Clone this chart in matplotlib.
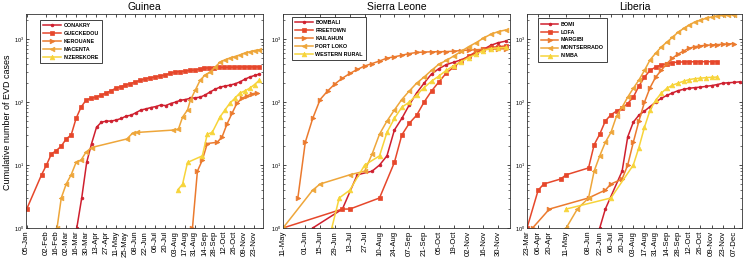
import matplotlib
matplotlib.use("Agg")
import matplotlib.pyplot as plt
import matplotlib.dates as mdates
import matplotlib.ticker as mticker
import pandas as pd

plt.rcParams['font.family'] = ['Liberation Sans', 'DejaVu Sans']

YEAR = "2014-"

# ---------------- Guinea ----------------
conakry_d = ["03-17","03-24","03-31","04-07","04-14","04-21","04-28","05-05","05-12","05-19","05-26","06-02","06-09","06-16","06-23","06-30","07-07","07-14","07-21","07-28","08-04","08-11","08-18","08-25","09-01","09-08","09-15","09-22","09-29","10-06","10-13","10-20","10-27","11-03","11-10","11-17","11-24","12-01"]
conakry_v = [1,3,11,22,40,48,50,50,52,55,60,62,68,75,78,82,85,90,88,95,100,107,110,115,117,120,130,145,160,173,180,186,195,209,230,250,265,280]
gueckedou_d = ["01-05","01-26","02-02","02-09","02-16","02-23","03-02","03-09","03-16","03-23","03-30","04-06","04-13","04-20","04-27","05-04","05-11","05-18","05-25","06-01","06-08","06-15","06-22","06-29","07-06","07-13","07-20","07-27","08-03","08-10","08-17","08-24","08-31","09-07","09-14","09-21","09-28","10-05","10-12","10-19","10-26","11-02","11-09","11-16","11-23","11-30"]
gueckedou_v = [2,7,10,15,17,20,26,30,55,83,107,115,120,128,139,150,166,175,186,197,209,222,234,243,251,260,269,285,300,306,311,318,323,335,347,350,353,355,357,358,360,361,362,362,363,363]
kerouane_d = ["08-28","09-04","09-11","09-18","10-02","10-09","10-16","10-23","10-30","11-06","11-13","11-20","11-27"]
kerouane_v = [1,8,12,22,23,28,45,66,96,115,125,135,140]
macenta_d = ["02-17","02-23","03-02","03-09","03-16","03-23","03-30","04-07","05-27","06-04","06-11","08-01","08-08","08-14","08-21","08-25","09-01","09-08","09-15","09-22","09-29","10-06","10-13","10-20","10-27","11-03","11-10","11-17","11-24","12-01"]
macenta_v = [1,3,5,7,11,12,16,19,26,32,33,36,37,58,75,107,155,224,270,300,360,430,470,500,530,560,600,630,660,680]
nzerekore_d = ["08-07","08-14","08-21","09-11","09-18","09-25","10-06","10-13","10-20","10-27","11-03","11-10","11-17","11-24","12-01"]
nzerekore_v = [4,5,11,14,31,33,58,75,96,115,139,150,166,190,224]

# ---------------- Sierra Leone ----------------
bombali_d = ["06-08","07-06","07-20","08-03","08-10","08-17","08-24","08-31","09-07","09-14","09-21","09-28","10-05","10-12","10-19","10-26","11-02","11-09","11-16","11-23","11-30","12-07"]
bombali_v = [1,2,7,8,10,14,36,55,90,140,200,280,340,395,430,470,530,600,690,800,880,930]
freetown_d = ["05-11","07-06","07-13","08-10","08-24","08-31","09-07","09-14","09-21","09-28","10-05","10-12","10-19","10-26","11-02","11-09","11-16","11-23","11-30","12-07"]
freetown_v = [1,2,2,3,11,30,46,62,100,150,210,290,360,450,540,630,700,740,760,780]
kailahun_d = ["05-25","06-01","06-08","06-15","06-22","06-29","07-06","07-13","07-20","07-27","08-03","08-10","08-17","08-24","08-31","09-07","09-14","09-21","09-28","10-05","10-12","10-19","10-26","11-02","11-09","11-16","11-23","11-30","12-07"]
kailahun_v = [3,23,55,110,150,195,240,285,330,375,410,450,500,525,555,590,615,625,630,632,635,645,660,670,680,690,695,700,705]
portloko_d = ["05-11","06-08","06-15","07-13","07-27","08-03","08-10","08-17","08-24","08-31","09-07","09-14","09-21","09-28","10-05","10-12","10-19","10-26","11-02","11-09","11-16","11-23","11-30","12-07"]
portloko_v = [1,4,5,7,8,15,31,50,75,110,150,200,250,320,400,460,540,640,760,880,1040,1200,1320,1400]
westrural_d = ["06-26","07-03","07-13","07-27","08-10","08-17","08-24","08-31","09-07","09-14","09-21","09-28","10-05","10-12","10-19","10-26","11-02","11-09","11-16","11-23","11-30","12-07"]
westrural_v = [1,3,4,10,14,33,55,83,100,130,170,215,260,320,380,440,510,580,660,710,730,740]

# ---------------- Liberia ----------------
bomi_d = ["06-22","06-29","07-20","07-27","08-03","08-10","08-17","08-24","08-31","09-07","09-14","09-21","09-28","10-05","10-12","10-19","10-26","11-02","11-09","11-16","11-23","11-30","12-07","12-14"]
bomi_v = [1,2,8,28,48,62,72,85,100,115,128,140,152,160,166,170,173,178,183,190,200,203,206,210]
lofa_d = ["03-23","04-06","04-13","05-04","05-11","06-08","06-15","06-22","06-29","07-06","07-13","07-20","07-27","08-03","08-10","08-17","08-24","08-31","09-07","09-14","09-21","09-28","10-05","10-12","10-19","10-26","11-02","11-09","11-16"]
lofa_v = [1,4,5,6,7,9,21,31,50,63,72,80,95,120,180,250,320,360,390,410,425,432,435,437,438,439,440,440,441]
margibi_d = ["03-30","04-20","06-08","06-29","07-06","07-20","07-27","08-03","08-10","08-17","08-24","08-31","09-07","09-14","09-21","09-28","10-05","10-12","10-19","10-26","11-02","11-09","11-16","11-23","11-30","12-07"]
margibi_v = [1,2,3,4,5,6,10,23,50,100,170,250,320,410,500,580,650,720,760,785,800,810,820,830,840,850]
montserrado_d = ["05-11","05-25","06-08","06-15","06-22","06-29","07-06","07-13","07-20","07-27","08-03","08-10","08-17","08-24","08-31","09-07","09-14","09-21","09-28","10-05","10-12","10-19","10-26","11-02","11-09","11-16","11-23","11-30","12-07"]
montserrado_v = [1,2,3,8,14,23,33,60,83,120,166,224,320,470,600,750,900,1070,1290,1480,1680,1880,2000,2150,2250,2330,2380,2430,2450]
nimba_d = ["05-11","07-06","08-03","08-10","08-17","08-24","08-31","09-07","09-14","09-21","09-28","10-05","10-12","10-19","10-26","11-02","11-09","11-16"]
nimba_v = [2,3,10,19,40,75,107,139,166,186,200,215,228,236,240,245,248,250]

# tick dates per panel
guinea_ticks = ["01-05","02-02","02-16","03-02","03-16","03-30","04-13","04-27","05-11","05-25","06-08","06-22","07-06","07-20","08-03","08-17","08-31","09-14","09-28","10-12","10-26","11-09","11-23"]
sl_ticks = ["05-11","06-01","06-15","06-29","07-13","07-27","08-10","08-24","09-07","09-21","10-05","10-19","11-02","11-16","11-30"]
lib_ticks = ["03-23","04-06","04-20","05-11","06-08","06-22","07-06","07-20","08-03","08-17","08-31","09-14","09-28","10-12","10-26","11-09","11-23","12-07"]

colors = ['#cf1f2e', '#e6472b', '#eb7a2e', '#eea63a', '#f7d43a']
markers = ['.', 's', '>', '<', '^']
msizes = [4.0, 3.0, 3.4, 3.4, 3.4]

def dt(lst):
    return pd.to_datetime([YEAR + s for s in lst])

panels = [
    dict(title="Guinea", rect=[26/745, 32/260, 237/745, 214/260],
         xlim=("2014-01-04", "2014-12-06"), ticks=guinea_ticks,
         series=[("CONAKRY", conakry_d, conakry_v), ("GUECKEDOU", gueckedou_d, gueckedou_v),
                 ("KEROUANE", kerouane_d, kerouane_v), ("MACENTA", macenta_d, macenta_v),
                 ("N'ZEREKORE", nzerekore_d, nzerekore_v)],
         leg=(0.059, 0.972)),
    dict(title="Sierra Leone", rect=[283/745, 32/260, 227/745, 214/260],
         xlim=("2014-05-11", "2014-12-11"), ticks=sl_ticks,
         series=[("BOMBALI", bombali_d, bombali_v), ("FREETOWN", freetown_d, freetown_v),
                 ("KAILAHUN", kailahun_d, kailahun_v), ("PORT LOKO", portloko_d, portloko_v),
                 ("WESTERN RURAL", westrural_d, westrural_v)],
         leg=(0.04, 0.986)),
    dict(title="Liberia", rect=[527/745, 32/260, 215/745, 214/260],
         xlim=("2014-03-23", "2014-12-17"), ticks=lib_ticks,
         series=[("BOMI", bomi_d, bomi_v), ("LOFA", lofa_d, lofa_v),
                 ("MARGIBI", margibi_d, margibi_v), ("MONTSERRADO", montserrado_d, montserrado_v),
                 ("NIMBA", nimba_d, nimba_v)],
         leg=(0.05, 0.98)),
]

fig = plt.figure(figsize=(7.45, 2.6), dpi=100)

for i, p in enumerate(panels):
    ax = fig.add_axes(p["rect"])
    for k, (name, d, v) in enumerate(p["series"]):
        ax.plot(dt(d), v, color=colors[k], marker=markers[k], markersize=msizes[k],
                linewidth=1.1, label=name, markeredgewidth=0.5)
    ax.set_yscale('log')
    ax.set_ylim(1, 10**3.4)
    ax.set_xlim(pd.Timestamp(p["xlim"][0]), pd.Timestamp(p["xlim"][1]))
    ax.set_xticks(dt(p["ticks"]))
    ax.xaxis.set_major_formatter(mdates.DateFormatter('%d-%b'))
    ax.yaxis.set_major_locator(mticker.LogLocator(base=10, numticks=10))
    ax.yaxis.set_minor_locator(mticker.LogLocator(base=10, subs=range(2, 10), numticks=10))
    ax.yaxis.set_minor_formatter(mticker.NullFormatter())
    ax.tick_params(axis='x', which='major', labelsize=5.6, rotation=90, direction='in',
                   top=True, length=2.5, width=0.5, pad=2)
    ax.tick_params(axis='y', which='major', labelsize=4, direction='in', right=True,
                   length=2.5, width=0.5, pad=1.5)
    ax.tick_params(axis='y', which='minor', direction='in', right=True, length=1.3, width=0.4)
    for s in ax.spines.values():
        s.set_linewidth(0.6)
        s.set_color('#333333')
    ax.set_title(p["title"], fontsize=7.5, pad=3)
    leg = ax.legend(loc='upper left', bbox_to_anchor=p["leg"], borderaxespad=0,
                    prop=dict(weight='bold', size=3.9), fancybox=False,
                    edgecolor='#222222', framealpha=1, handlelength=3.2,
                    labelspacing=0.55, borderpad=0.6, handletextpad=0.5)
    leg.get_frame().set_linewidth(0.6)

fig.text(8/745, 0.53, "Cumulative number of EVD cases", rotation=90, fontsize=6.5,
         ha='center', va='center')

fig.savefig("out.png", dpi=100)
